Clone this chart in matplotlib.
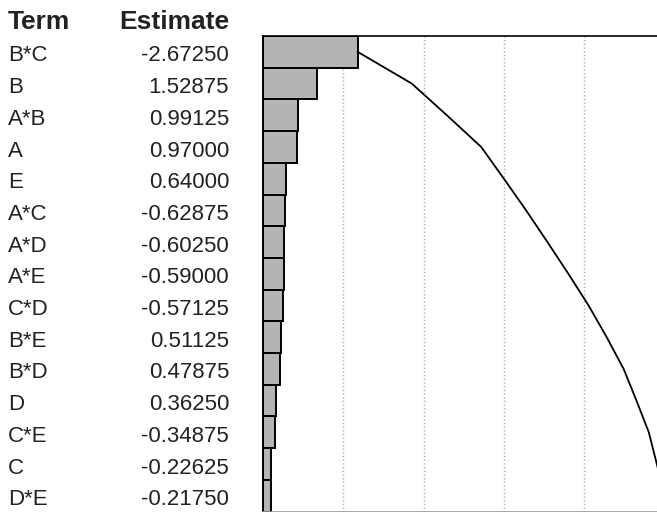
import numpy as np
import matplotlib.pyplot as plt
import matplotlib.transforms as mtransforms

plt.rcParams['font.family'] = ['Liberation Sans', 'DejaVu Sans']

terms = ["B*C", "B", "A*B", "A", "E", "A*C", "A*D", "A*E",
         "C*D", "B*E", "B*D", "D", "C*E", "C", "D*E"]
estimates = [-2.67250, 1.52875, 0.99125, 0.97000, 0.64000, -0.62875, -0.60250,
             -0.59000, -0.57125, 0.51125, 0.47875, 0.36250, -0.34875, -0.22625,
             -0.21750]

est = np.array(estimates)
frac = np.abs(est) / np.abs(est).sum()     # bar length as share of total
cum = np.cumsum(frac)                      # pareto curve
rows = np.arange(len(terms))

fig = plt.figure(figsize=(6.57, 5.12), dpi=100)
ax = fig.add_axes([263/657, 0.5/512, 401.5/657, 475.5/512])

ax.barh(rows, frac, height=1.0, left=0, color='#b4b4b4',
        edgecolor='black', linewidth=1.4, zorder=2)
ax.plot(cum, rows, color='black', linewidth=1.3, zorder=3)

for gx in [0.2, 0.4, 0.6, 0.8]:
    ax.axvline(gx, color='#b0b0b0', linestyle=':', linewidth=1, zorder=1)

ax.set_xlim(0, 1)
ax.set_ylim(len(terms) - 0.5, -0.5)
ax.set_xticks([])
ax.set_yticks([])
ax.spines['right'].set_visible(False)
ax.spines['top'].set_color('black')
ax.spines['top'].set_linewidth(1.2)
ax.spines['left'].set_color('black')
ax.spines['left'].set_linewidth(1.4)
ax.spines['bottom'].set_color('#999999')
ax.spines['bottom'].set_linewidth(1.2)

# table of terms and estimates on the left
tr = mtransforms.blended_transform_factory(fig.transFigure, ax.transData)
for i, (t, e) in enumerate(zip(terms, estimates)):
    ax.text(8/657, i + 0.13, t, transform=tr, ha='left', va='center',
            fontsize=16, color='#222222', clip_on=False)
    ax.text(229/657, i + 0.13, f"{e:.5f}", transform=tr, ha='right',
            va='center', fontsize=16, color='#222222', clip_on=False)

fig.text(8/657, 1 - 21.7/512, "Term", ha='left', va='center',
         fontsize=19, fontweight='bold', color='#222222')
fig.text(229/657, 1 - 21.7/512, "Estimate", ha='right', va='center',
         fontsize=19, fontweight='bold', color='#222222')

fig.savefig('out.png', dpi=100)
